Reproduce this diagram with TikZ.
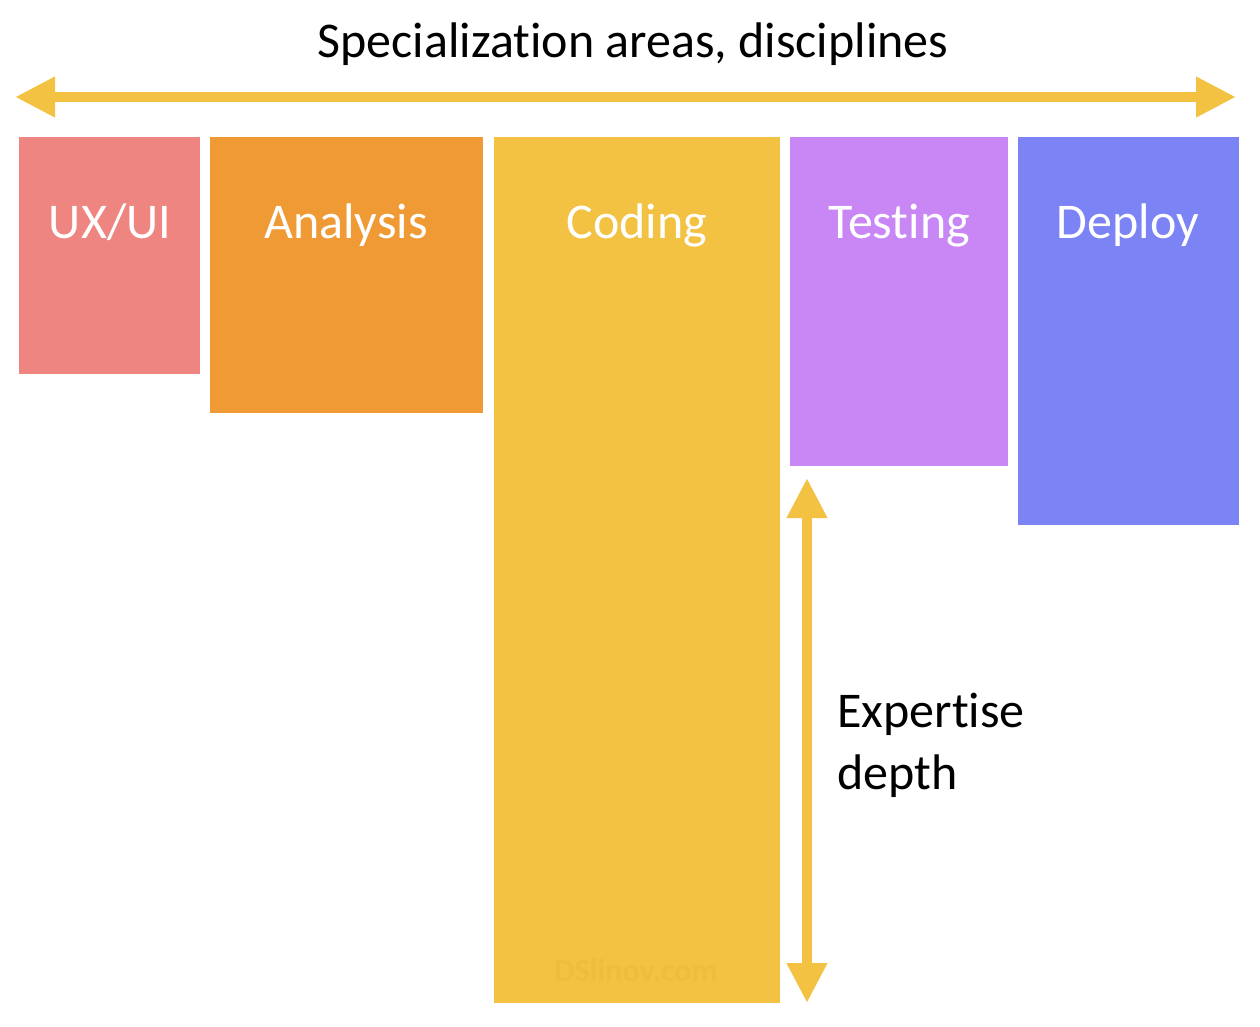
\documentclass[tikz,border=0pt]{standalone}
\usepackage{fontspec}
\setmainfont{Carlito}[Ligatures={NoCommon}]
\usetikzlibrary{arrows.meta}
\definecolor{cux}{HTML}{EE8580}
\definecolor{can}{HTML}{EF9A35}
\definecolor{cco}{HTML}{F3C242}
\definecolor{cte}{HTML}{C986F5}
\definecolor{cde}{HTML}{7B83F5}
\definecolor{carrow}{HTML}{F3C242}
\definecolor{cwm}{HTML}{EFBD3C}
\tikzset{
  bar/.style={draw=none},
  barlabel/.style={text=white, font=\fontsize{50}{56}\selectfont, anchor=base},
  bigarrow/.style={carrow, line width=10pt, {Triangle[length=40pt,width=38pt]}-{Triangle[length=40pt,width=38pt]}},
  blacktext/.style={text=black, font=\fontsize{50}{56}\selectfont}
}
\begin{document}
\begin{tikzpicture}[x=1pt,y=-1pt]
\useasboundingbox (0,0) rectangle (1260,1026);
\fill[white] (0,0) rectangle (1260,1026);
% bars
\fill[cux] (19,137) rectangle (200,374);
\fill[can] (210,137) rectangle (483,413);
\fill[cco] (494,137) rectangle (780,1003);
\fill[cte] (790,137) rectangle (1008,466);
\fill[cde] (1018,137) rectangle (1239,525);
% labels
\node[barlabel] (ux) at (110,238) {UX/UI};
\node[barlabel] (an) at (346,238) {Analysis};
\node[barlabel] (co) at (637,238) {Coding};
\node[barlabel] (te) at (899,238) {Testing};
\node[barlabel] (de) at (1128,238) {Deploy};
\node[text=cwm, font=\fontsize{32}{36}\selectfont\bfseries, anchor=base] (wm) at (636,981) {DSlinov.com};
% title
\node[blacktext, anchor=base] (title) at (633,57) {Specialization areas, disciplines};
% horizontal arrow
\coordinate (hl) at (15,97);
\coordinate (hr) at (1236,97);
\draw[bigarrow] (hl) -- (hr);
% vertical arrow
\coordinate (vt) at (807,478);
\coordinate (vb) at (807,1003);
\draw[bigarrow] (vt) -- (vb);
% expertise
\node[blacktext, anchor=base west, align=left] (exp) at (834,727) {Expertise};
\node[blacktext, anchor=base west, align=left] (dep) at (834,789) {depth};
\end{tikzpicture}
\end{document}
